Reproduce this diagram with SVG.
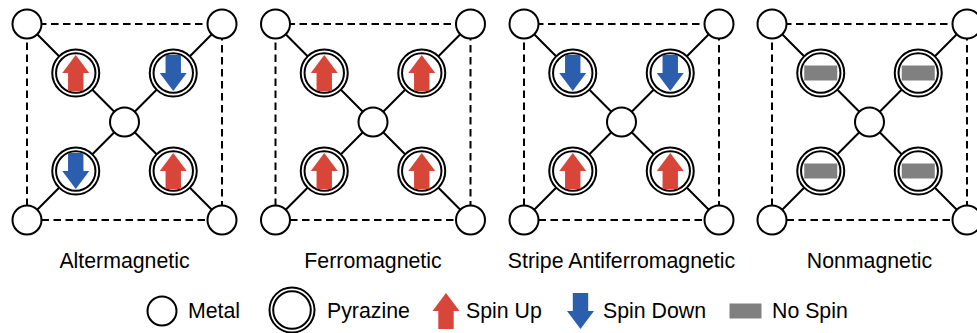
<svg xmlns="http://www.w3.org/2000/svg" xmlns:xlink="http://www.w3.org/1999/xlink" width="977" height="333" viewBox="0 0 977 333">
<style>
.m{fill:#fff;stroke:#000;stroke-width:2}
.p{fill:#fff;stroke:#000;stroke-width:2}
.bond{stroke:#000;stroke-width:2;fill:none}
.cell{stroke:#000;stroke-width:2;fill:none;stroke-dasharray:7.5 4.5}
.up{fill:#d8463a}
.dn{fill:#2b5fae}
.ns{fill:#808080}
text{font-family:"Liberation Sans",Arial,sans-serif;font-size:21.3px;fill:#000}
.lbl{text-anchor:middle}
</style>
<defs>
<path id="aup" class="up" d="M0,-18 L13.5,0 L7.7,0 L7.7,18 L-7.7,18 L-7.7,0 L-13.5,0 Z"/>
<path id="adn" class="dn" d="M0,18 L13.5,0 L7.7,0 L7.7,-18 L-7.7,-18 L-7.7,0 L-13.5,0 Z"/>
<rect id="bar" class="ns" x="-16.5" y="-7.5" width="33" height="15"/>
<g id="pyr"><circle class="p" r="23.5"/><circle class="p" r="19.7"/></g>
</defs>
<g id="connectors">
<rect class="cell" x="27" y="24" width="195" height="196"/>
<rect class="cell" x="275.5" y="24" width="195" height="196"/>
<rect class="cell" x="524" y="24" width="195" height="196"/>
<rect class="cell" x="772" y="24" width="195" height="196"/>
<path class="bond" d="M27,24 L222,220 M222,24 L27,220"/>
<path class="bond" d="M275.5,24 L470.5,220 M470.5,24 L275.5,220"/>
<path class="bond" d="M524,24 L719,220 M719,24 L524,220"/>
<path class="bond" d="M772,24 L967,220 M967,24 L772,220"/>
</g>
<!-- Panel 1: Altermagnetic -->
<g id="p1-m-tl"><circle class="m" cx="27" cy="24" r="14.5"/></g>
<g id="p1-m-tr"><circle class="m" cx="222" cy="24" r="14.5"/></g>
<g id="p1-m-bl"><circle class="m" cx="27" cy="220" r="14.5"/></g>
<g id="p1-m-br"><circle class="m" cx="222" cy="220" r="14.5"/></g>
<g id="p1-m-c"><circle class="m" cx="124.5" cy="122" r="14.5"/></g>
<g id="p1-py-tl" transform="translate(75.75,73)"><use href="#pyr"/><use href="#aup"/></g>
<g id="p1-py-tr" transform="translate(173.25,73)"><use href="#pyr"/><use href="#adn"/></g>
<g id="p1-py-bl" transform="translate(75.75,171)"><use href="#pyr"/><use href="#adn"/></g>
<g id="p1-py-br" transform="translate(173.25,171)"><use href="#pyr"/><use href="#aup"/></g>
<!-- Panel 2: Ferromagnetic -->
<g id="p2-m-tl"><circle class="m" cx="275.5" cy="24" r="14.5"/></g>
<g id="p2-m-tr"><circle class="m" cx="470.5" cy="24" r="14.5"/></g>
<g id="p2-m-bl"><circle class="m" cx="275.5" cy="220" r="14.5"/></g>
<g id="p2-m-br"><circle class="m" cx="470.5" cy="220" r="14.5"/></g>
<g id="p2-m-c"><circle class="m" cx="373" cy="122" r="14.5"/></g>
<g id="p2-py-tl" transform="translate(324.25,73)"><use href="#pyr"/><use href="#aup"/></g>
<g id="p2-py-tr" transform="translate(421.75,73)"><use href="#pyr"/><use href="#aup"/></g>
<g id="p2-py-bl" transform="translate(324.25,171)"><use href="#pyr"/><use href="#aup"/></g>
<g id="p2-py-br" transform="translate(421.75,171)"><use href="#pyr"/><use href="#aup"/></g>
<!-- Panel 3: Stripe Antiferromagnetic -->
<g id="p3-m-tl"><circle class="m" cx="524" cy="24" r="14.5"/></g>
<g id="p3-m-tr"><circle class="m" cx="719" cy="24" r="14.5"/></g>
<g id="p3-m-bl"><circle class="m" cx="524" cy="220" r="14.5"/></g>
<g id="p3-m-br"><circle class="m" cx="719" cy="220" r="14.5"/></g>
<g id="p3-m-c"><circle class="m" cx="621.5" cy="122" r="14.5"/></g>
<g id="p3-py-tl" transform="translate(572.75,73)"><use href="#pyr"/><use href="#adn"/></g>
<g id="p3-py-tr" transform="translate(670.25,73)"><use href="#pyr"/><use href="#adn"/></g>
<g id="p3-py-bl" transform="translate(572.75,171)"><use href="#pyr"/><use href="#aup"/></g>
<g id="p3-py-br" transform="translate(670.25,171)"><use href="#pyr"/><use href="#aup"/></g>
<!-- Panel 4: Nonmagnetic -->
<g id="p4-m-tl"><circle class="m" cx="772" cy="24" r="14.5"/></g>
<g id="p4-m-tr"><circle class="m" cx="967" cy="24" r="14.5"/></g>
<g id="p4-m-bl"><circle class="m" cx="772" cy="220" r="14.5"/></g>
<g id="p4-m-br"><circle class="m" cx="967" cy="220" r="14.5"/></g>
<g id="p4-m-c"><circle class="m" cx="869.5" cy="122" r="14.5"/></g>
<g id="p4-py-tl" transform="translate(820.75,73)"><use href="#pyr"/><use href="#bar"/></g>
<g id="p4-py-tr" transform="translate(918.25,73)"><use href="#pyr"/><use href="#bar"/></g>
<g id="p4-py-bl" transform="translate(820.75,171)"><use href="#pyr"/><use href="#bar"/></g>
<g id="p4-py-br" transform="translate(918.25,171)"><use href="#pyr"/><use href="#bar"/></g>
<!-- Panel labels -->
<g id="labels">
<text class="lbl" x="124.5" y="268">Altermagnetic</text>
<text class="lbl" x="373" y="268">Ferromagnetic</text>
<text class="lbl" x="621.5" y="268">Stripe Antiferromagnetic</text>
<text class="lbl" x="869.5" y="268">Nonmagnetic</text>
</g>
<!-- Legend -->
<g id="legend">
<g id="leg-metal"><circle class="m" cx="162" cy="311" r="14.5"/><text x="188" y="318">Metal</text></g>
<g id="leg-pyrazine"><circle class="p" cx="292" cy="310" r="22.5"/><circle class="p" cx="292" cy="310" r="18.8"/><text x="327" y="318">Pyrazine</text></g>
<g id="leg-up"><use href="#aup" x="446" y="311"/><text x="466" y="318">Spin Up</text></g>
<g id="leg-down"><use href="#adn" x="580.5" y="311"/><text x="603" y="318">Spin Down</text></g>
<g id="leg-nospin"><rect class="ns" x="729.5" y="303.5" width="32" height="15"/><text x="772" y="318">No Spin</text></g>
</g>
</svg>
